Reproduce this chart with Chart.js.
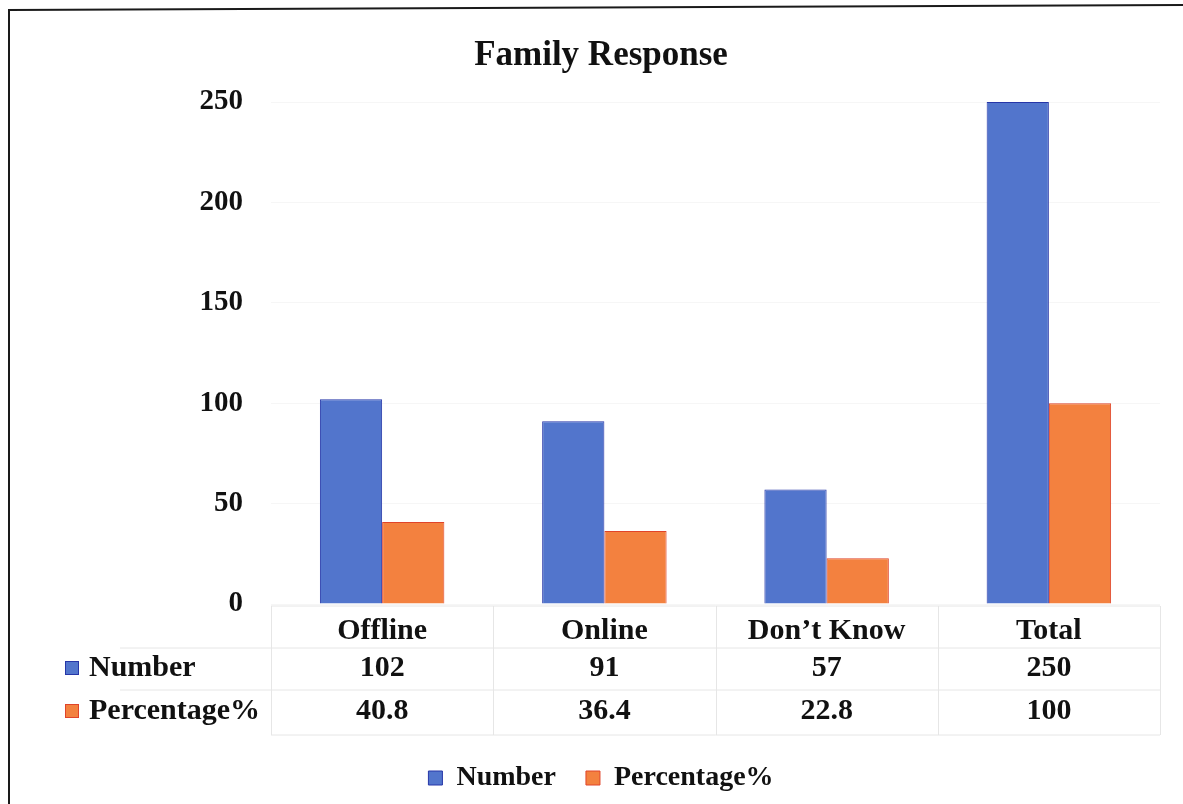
<!DOCTYPE html>
<html>
<head>
<meta charset="utf-8">
<script src="https://cdn.jsdelivr.net/npm/chart.js@4"></script>
<style>
  body { margin: 0; background: #fff; }
  canvas { display: block; }
</style>
</head>
<body>
<canvas id="familyChart" width="1183" height="804"></canvas>
<script>
// Data
const categories = ["Offline", "Online", "Don\u2019t Know", "Total"];
const numberValues = [102, 91, 57, 250];
const percentValues = [40.8, 36.4, 22.8, 100];
const yTicks = [0, 50, 100, 150, 200, 250];

const serif = "'Liberation Serif', 'Times New Roman', serif";
const blue = "#5275cc", blueEdge = "#2636a8";
const orange = "#f3813f", orangeEdge = "#e0442a";

// frame + data table under the plot
const tablePlugin = {
  id: "tablePlugin",
  beforeDraw(chart) {
    const ctx = chart.ctx;
    ctx.save();
    ctx.fillStyle = "#fff";
    ctx.fillRect(0, 0, chart.width, chart.height);
    ctx.restore();
  },
  afterDraw(chart) {
    const ctx = chart.ctx;
    const area = chart.chartArea;
    const x = chart.scales.x;
    const b = area.bottom;
    const half = (x.getPixelForValue(1) - x.getPixelForValue(0)) / 2;

    ctx.save();
    // outer frame (scan is slightly tilted)
    ctx.strokeStyle = "#1a1a1a";
    ctx.lineWidth = 2;
    ctx.beginPath();
    ctx.moveTo(9, chart.height);
    ctx.lineTo(9, 10);
    ctx.lineTo(chart.width, 5);
    ctx.stroke();

    // table grid
    ctx.strokeStyle = "#e6e6e6";
    ctx.lineWidth = 1;
    const left = x.getPixelForValue(0) - half;
    const right = x.getPixelForValue(categories.length - 1) + half;
    ctx.beginPath();
    ctx.moveTo(left, b + 2); ctx.lineTo(right, b + 2);
    [44, 86].forEach(dy => { ctx.moveTo(120, b + dy); ctx.lineTo(right, b + dy); });
    ctx.moveTo(left, b + 131); ctx.lineTo(right, b + 131);
    for (let i = 0; i <= categories.length; i++) {
      const px = Math.round(left + i * half * 2) + 0.5;
      ctx.moveTo(px, b + 2); ctx.lineTo(px, b + 131);
    }
    ctx.stroke();

    // row keys and values
    const rows = [
      { name: "Number", vals: numberValues, fill: blue, edge: blueEdge, dy: 64 },
      { name: "Percentage%", vals: percentValues, fill: orange, edge: orangeEdge, dy: 107 }
    ];
    ctx.font = "bold 30px " + serif;
    ctx.textBaseline = "middle";
    rows.forEach(r => {
      const y = b + r.dy;
      ctx.fillStyle = r.fill;
      ctx.fillRect(65, y - 7, 14, 14);
      ctx.strokeStyle = r.edge;
      ctx.strokeRect(65.5, y - 6.5, 13, 13);
      ctx.fillStyle = "#111";
      ctx.textAlign = "left";
      ctx.fillText(r.name, 89, y);
      ctx.textAlign = "center";
      r.vals.forEach((v, i) => ctx.fillText(String(v), x.getPixelForValue(i), y));
    });
    ctx.restore();
  }
};

new Chart(document.getElementById("familyChart"), {
  type: "bar",
  data: {
    labels: categories,
    datasets: [
      { label: "Number", data: numberValues, backgroundColor: blue, borderColor: blueEdge, borderWidth: 1 },
      { label: "Percentage%", data: percentValues, backgroundColor: orange, borderColor: orangeEdge, borderWidth: 1 }
    ]
  },
  options: {
    responsive: false,
    animation: false,
    devicePixelRatio: 1,
    layout: { padding: { top: 24, left: 42, right: 23, bottom: 2 } },
    datasets: { bar: { barPercentage: 1, categoryPercentage: 0.56 } },
    scales: {
      x: {
        grid: { display: false, drawTicks: false },
        border: { display: false },
        ticks: { color: "#111", font: { family: serif, size: 30, weight: "bold" }, padding: 9 },
        afterFit(scale) { scale.height = 130; }
      },
      y: {
        min: 0,
        max: 250,
        afterBuildTicks(scale) { scale.ticks = yTicks.map(v => ({ value: v })); },
        grid: { color: "rgba(0,0,0,0.035)", drawTicks: false },
        border: { display: false },
        ticks: { color: "#111", font: { family: serif, size: 29, weight: "bold" }, padding: 28 },
        afterFit(scale) { scale.width = 229; }
      }
    },
    plugins: {
      title: {
        display: true,
        text: "Family Response",
        color: "#111",
        font: { family: serif, size: 35, weight: "bold" },
        padding: { top: 11, bottom: 25 }
      },
      legend: {
        position: "bottom",
        labels: {
          color: "#111",
          font: { family: serif, size: 28, weight: "bold" },
          boxWidth: 14,
          boxHeight: 14,
          padding: 30
        }
      },
      tooltip: { enabled: false }
    }
  },
  plugins: [tablePlugin]
});
</script>
</body>
</html>
